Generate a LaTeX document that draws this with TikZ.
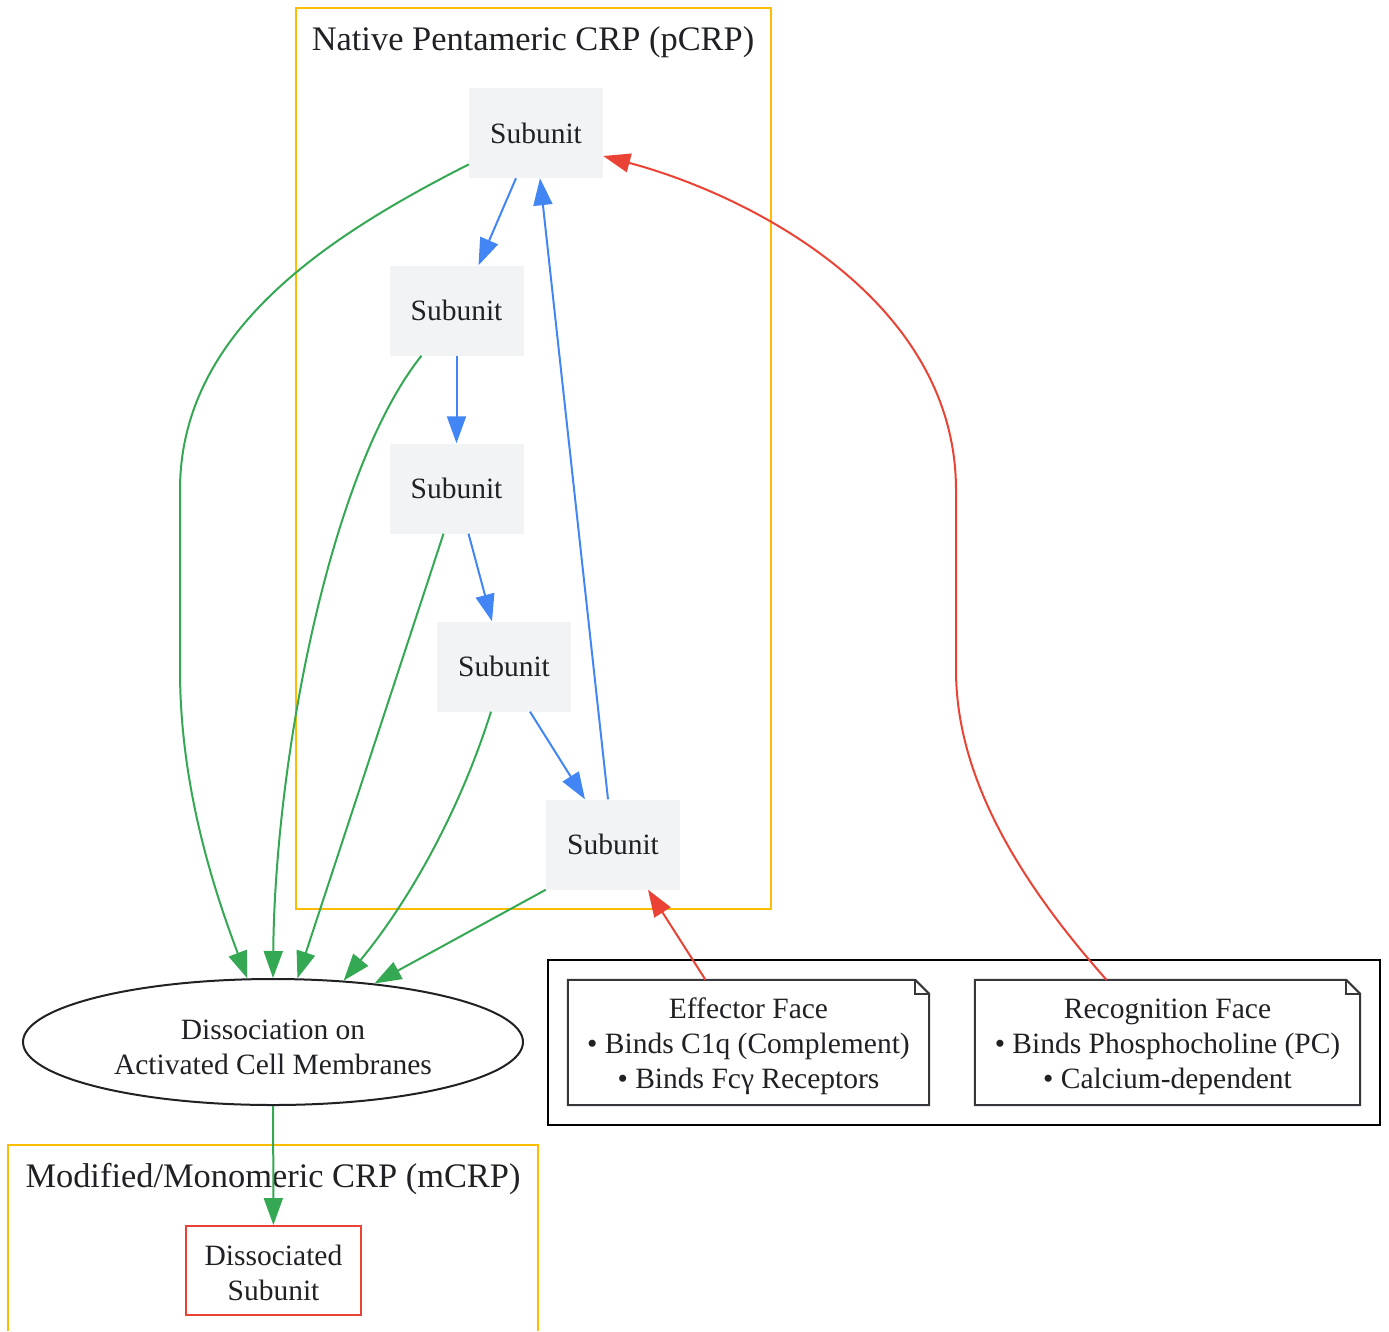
\documentclass[tikz,border=0pt]{standalone}
\usepackage{fontspec}
\setmainfont{Liberation Serif}
\usetikzlibrary{arrows.meta,shapes.geometric}

\definecolor{crpgreen}{HTML}{34A853}
\definecolor{crpblue}{HTML}{4285F4}
\definecolor{crpred}{HTML}{EA4335}
\definecolor{crpyellow}{HTML}{FBBC04}
\definecolor{subfill}{HTML}{F1F3F4}
\definecolor{inkgray}{HTML}{202124}

% taller first line, pushes a text block down a little
\newcommand{\toprule}[1]{\rule{0pt}{#1}}

\begin{document}
\begin{tikzpicture}[x=1pt, y=-1pt,
    every node/.style={text=inkgray, font=\fontsize{29.5}{35}\selectfont},
    subunit/.style={fill=subfill, minimum width=134pt, minimum height=90pt, inner sep=0pt},
    cluster/.style={draw=crpyellow, line width=2pt},
    clusterlabel/.style={font=\fontsize{34.4}{40}\selectfont},
    notebox/.style={align=center, minimum height=125pt, inner sep=0pt},
    noteline/.style={draw=inkgray!90, line width=2pt, line join=miter},
    greenarrow/.style={draw=crpgreen, line width=2pt, -{Triangle[length=27pt,width=19pt]}},
    bluearrow/.style={draw=crpblue, line width=2pt, -{Triangle[length=27pt,width=19pt]}},
    redarrow/.style={draw=crpred, line width=2pt, -{Triangle[length=27pt,width=19pt]}}]

        \useasboundingbox (0,0) rectangle (1389,1331);

        % Clusters
        \draw[cluster] (296,8) rectangle (771,909);
        \node[clusterlabel] (pcrplabel) at (533,42.5) {Native Pentameric CRP (pCRP)};
        \draw[cluster] (8,1331) -- (8,1145) -- (538,1145) -- (538,1331);
        \node[clusterlabel] (mcrplabel) at (273,1179.5) {Modified/Monomeric CRP (mCRP)};
        \draw[line width=2.5pt] (548,960) rectangle (1380,1125);

        % Subunits of the pentamer
        \node[subunit] (s1) at (536,133) {Subunit};
        \node[subunit] (s2) at (456.5,310.5) {Subunit};
        \node[subunit] (s3) at (456.5,488.5) {Subunit};
        \node[subunit] (s4) at (504,666.5) {Subunit};
        \node[subunit] (s5) at (613,844.5) {Subunit};

        % Dissociation and result
        \node[ellipse, align=center, draw=inkgray, line width=2pt, minimum width=500pt, minimum height=126pt,
              inner sep=0pt, font=\fontsize{29.5}{34.7}\selectfont] (diss) at (273,1042)
            {\toprule{30pt}Dissociation on\\Activated Cell Membranes};
        \node[align=center, draw=crpred, line width=2pt, fill=white, minimum width=175pt, minimum height=89pt,
              inner sep=0pt] (mono) at (273.5,1270.5) {\toprule{25pt}Dissociated\\Subunit};

        % Notes on the two faces
        \node[notebox, minimum width=361pt] (eff) at (748.5,1042.5)
            {\toprule{27.5pt}Effector Face\\• Binds C1q (Complement)\\• Binds Fcγ Receptors};
        \node[notebox, minimum width=385pt] (rec) at (1167.5,1042.5)
            {\toprule{27.5pt}Recognition Face\\• Binds Phosphocholine (PC)\\• Calcium-dependent};
        \foreach \n in {eff,rec} {
            \draw[noteline] (\n.north west) -- ([xshift=-14pt]\n.north east) -- ([yshift=-14pt]\n.north east)
                -- (\n.south east) -- (\n.south west) -- cycle;
            \draw[noteline] ([xshift=-14pt]\n.north east) |- ([yshift=-14pt]\n.north east);
        }

        % Ring of subunits
        \draw[bluearrow] ([xshift=-20pt]s1.south) -- ([xshift=22pt]s2.north);
        \draw[bluearrow] (s2) -- (s3);
        \draw[bluearrow] ([xshift=12pt]s3.south) -- ([xshift=-12pt]s4.north);
        \draw[bluearrow] ([xshift=26pt]s4.south) -- ([xshift=-28pt]s5.north);
        \draw[bluearrow] ([xshift=-5pt]s5.north) -- ([xshift=4pt]s1.south);

        % Dissociation
        \draw[greenarrow] (s1.205) .. controls (330,235) and (180,330) .. (180,490) -- (180,670)
            .. controls (180,780) and (210,880) .. (diss.112);
        \draw[greenarrow] ([xshift=-35pt]s2.south) .. controls (330,470) and (275,760) .. (diss.90);
        \draw[greenarrow] ([xshift=-13pt]s3.south) -- (diss.69);
        \draw[greenarrow] ([xshift=-13pt]s4.south) .. controls (460,810) and (410,900) .. (diss.41);
        \draw[greenarrow] (s5.south west) -- (diss.30);
        \draw[greenarrow] (diss) -- (mono);

        % Faces
        \draw[redarrow] ([xshift=-43pt]eff.north) -- ([xshift=35pt]s5.south);
        \draw[redarrow] ([xshift=-61pt]rec.north) .. controls (1000,860) and (956,760) .. (956,670) -- (956,490)
            .. controls (956,300) and (750,195) .. ([yshift=-23pt]s1.east);

\end{tikzpicture}
\end{document}
